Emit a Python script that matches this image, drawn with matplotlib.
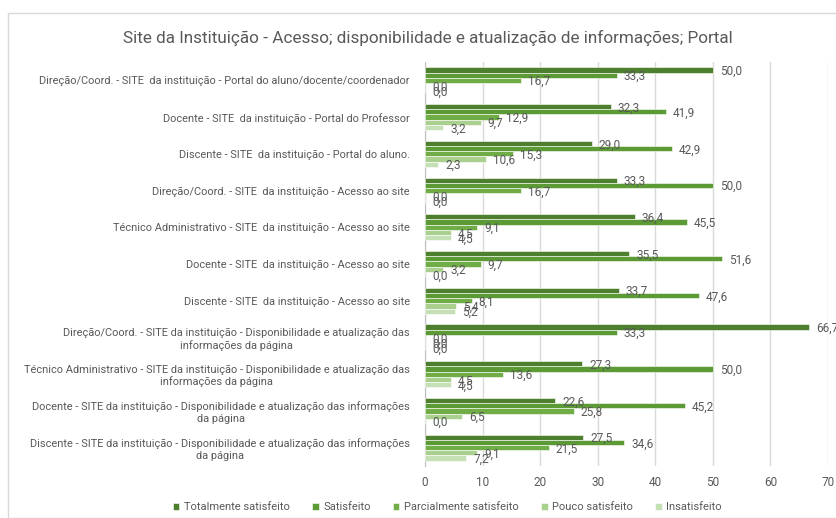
import matplotlib
matplotlib.use("Agg")
import matplotlib.pyplot as plt
import numpy as np
from matplotlib.patches import Rectangle

categories = [
    "Direção/Coord. - SITE  da instituição - Portal do aluno/docente/coordenador",
    "Docente - SITE  da instituição - Portal do Professor",
    "Discente - SITE  da instituição - Portal do aluno.",
    "Direção/Coord. - SITE  da instituição - Acesso ao site",
    "Técnico Administrativo - SITE  da instituição - Acesso ao site",
    "Docente - SITE  da instituição - Acesso ao site",
    "Discente - SITE  da instituição - Acesso ao site",
    "Direção/Coord. - SITE da instituição - Disponibilidade e atualização das\ninformações da página",
    "Técnico Administrativo - SITE da instituição - Disponibilidade e atualização das\ninformações da página",
    "Docente - SITE da instituição - Disponibilidade e atualização das informações\nda página",
    "Discente - SITE da instituição - Disponibilidade e atualização das informações\nda página",
]
series_names = ["Totalmente satisfeito", "Satisfeito", "Parcialmente satisfeito",
                "Pouco satisfeito", "Insatisfeito"]
totalmente = [50.0, 32.3, 29.0, 33.3, 36.4, 35.5, 33.7, 66.7, 27.3, 22.6, 27.5]
satisfeito = [33.3, 41.9, 42.9, 50.0, 45.5, 51.6, 47.6, 33.3, 50.0, 45.2, 34.6]
parcialmente = [16.7, 12.9, 15.3, 16.7, 9.1, 9.7, 8.1, 0.0, 13.6, 25.8, 21.5]
pouco = [0.0, 9.7, 10.6, 0.0, 4.5, 3.2, 5.4, 0.0, 4.5, 6.5, 9.1]
insatisfeito = [0.0, 3.2, 2.3, 0.0, 4.5, 0.0, 5.2, 0.0, 4.5, 0.0, 7.2]
xticks = [0, 10, 20, 30, 40, 50, 60, 70]

series = [totalmente, satisfeito, parcialmente, pouco, insatisfeito]
colors = ["#4E7F2F", "#5B9A35", "#70AD47", "#A9D08E", "#C5E0B4"]
grey = "#595959"
plt.rcParams["font.family"] = ["Roboto", "DejaVu Sans"]

fig = plt.figure(figsize=(8.36, 5.18), dpi=100)
fig.patches.append(Rectangle((8/836, 0), 1, 1 - 13/518, transform=fig.transFigure,
                             fill=False, edgecolor="#D9D9D9", linewidth=1))
ax = fig.add_axes([425/836, 1 - 466/518, (828 - 425)/836, (466 - 62)/518])

n = len(categories)
y = np.arange(n)
h = 0.142
for i, (vals, c, name) in enumerate(zip(series, colors, series_names)):
    pos = y + (i - 2) * h
    ax.barh(pos, vals, height=h, color=c, edgecolor="white", linewidth=0.4,
            label=name, zorder=3)
    for p, v in zip(pos, vals):
        ax.annotate(f"{v:.1f}".replace(".", ","), (v, p), xytext=(5, -1),
                    textcoords="offset points", va="center", ha="left",
                    fontsize=8.5, color=grey, zorder=4)

ax.set_ylim(n - 0.5, -0.5)
ax.set_xlim(0, 70)
ax.set_xticks(xticks)
ax.set_xticklabels([str(t) for t in xticks], fontsize=8.5, color=grey)
ax.set_yticks(y)
ax.set_yticklabels(categories, fontsize=7.9, color=grey, ha="right",
                   multialignment="center")
ax.tick_params(axis="y", length=0, pad=11)
ax.tick_params(axis="x", length=0, pad=7)
ax.grid(axis="x", color="#D9D9D9", linewidth=1, zorder=0)
for s in ["top", "right", "bottom"]:
    ax.spines[s].set_visible(False)
ax.spines["left"].set_color("#BFBFBF")

fig.text(0.512, 1 - 38/518, "Site da Instituição - Acesso; disponibilidade e atualização de informações; Portal",
         ha="center", va="center", fontsize=12.3, color=grey)

handles, labels = ax.get_legend_handles_labels()
fig.legend(handles, labels, loc="center", bbox_to_anchor=(0.535, 1 - 507/518), ncol=5,
           frameon=False, fontsize=8, labelcolor=grey, handlelength=0.6, handleheight=0.6,
           columnspacing=2.0, handletextpad=0.4)

fig.savefig("out.png", dpi=100)
